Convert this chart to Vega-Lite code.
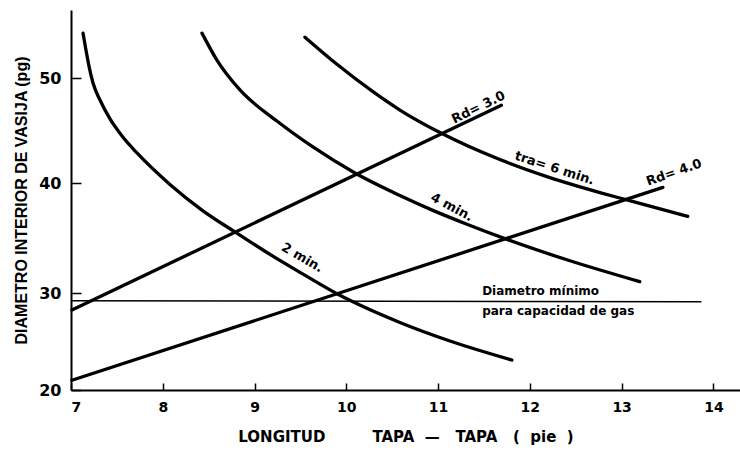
{
  "$schema": "https://vega.github.io/schema/vega-lite/v6.json",
  "width": 669,
  "height": 380,
  "autosize": {"type": "none"},
  "padding": {"left": 71, "top": 10, "right": 0, "bottom": 65},
  "background": "white",
  "config": {
    "view": {"stroke": null},
    "font": "DejaVu Sans"
  },
  "datasets": {
    "curves": [
      {"serie": "2 min", "x": 7.131, "y": 54.29},
      {"serie": "2 min", "x": 7.163, "y": 52.67},
      {"serie": "2 min", "x": 7.196, "y": 51.14},
      {"serie": "2 min", "x": 7.24, "y": 49.52},
      {"serie": "2 min", "x": 7.316, "y": 47.9},
      {"serie": "2 min", "x": 7.425, "y": 46.1},
      {"serie": "2 min", "x": 7.556, "y": 44.48},
      {"serie": "2 min", "x": 7.719, "y": 42.86},
      {"serie": "2 min", "x": 8.078, "y": 39.87},
      {"serie": "2 min", "x": 8.427, "y": 37.54},
      {"serie": "2 min", "x": 8.786, "y": 35.55},
      {"serie": "2 min", "x": 9.135, "y": 33.68},
      {"serie": "2 min", "x": 9.495, "y": 31.88},
      {"serie": "2 min", "x": 9.908, "y": 29.87},
      {"serie": "2 min", "x": 10.072, "y": 29.09},
      {"serie": "2 min", "x": 10.584, "y": 26.96},
      {"serie": "2 min", "x": 11.129, "y": 25.05},
      {"serie": "2 min", "x": 11.804, "y": 23.09},
      {"serie": "4 min", "x": 8.427, "y": 54.29},
      {"serie": "4 min", "x": 8.59, "y": 51.71},
      {"serie": "4 min", "x": 8.841, "y": 48.86},
      {"serie": "4 min", "x": 9.244, "y": 45.9},
      {"serie": "4 min", "x": 9.636, "y": 43.43},
      {"serie": "4 min", "x": 10.094, "y": 40.95},
      {"serie": "4 min", "x": 10.584, "y": 38.86},
      {"serie": "4 min", "x": 10.943, "y": 37.51},
      {"serie": "4 min", "x": 11.314, "y": 36.25},
      {"serie": "4 min", "x": 11.728, "y": 34.94},
      {"serie": "4 min", "x": 12.403, "y": 33.02},
      {"serie": "4 min", "x": 13.198, "y": 31.03},
      {"serie": "6 min", "x": 9.549, "y": 53.9},
      {"serie": "6 min", "x": 9.898, "y": 51.31},
      {"serie": "6 min", "x": 10.29, "y": 48.7},
      {"serie": "6 min", "x": 10.584, "y": 46.95},
      {"serie": "6 min", "x": 11.042, "y": 44.71},
      {"serie": "6 min", "x": 11.673, "y": 42.23},
      {"serie": "6 min", "x": 12.218, "y": 40.51},
      {"serie": "6 min", "x": 12.763, "y": 39.13},
      {"serie": "6 min", "x": 13.057, "y": 38.46},
      {"serie": "6 min", "x": 13.721, "y": 36.96},
      {"serie": "Rd 3.0", "x": 7.01, "y": 28.25},
      {"serie": "Rd 3.0", "x": 11.69, "y": 47.4},
      {"serie": "Rd 4.0", "x": 7.01, "y": 21.0},
      {"serie": "Rd 4.0", "x": 13.45, "y": 39.6}
    ],
    "minimo": [
      {"serie": "minimo", "x": 7.0, "y": 29.2},
      {"serie": "minimo", "x": 13.87, "y": 29.1}
    ],
    "labels": [
      {"id": "rd3", "text": "Rd= 3.0", "x": 11.44, "y": 47.2},
      {"id": "t6", "text": "tra= 6 min.", "x": 12.27, "y": 41.4},
      {"id": "rd4", "text": "Rd= 4.0", "x": 13.57, "y": 41.0},
      {"id": "t4", "text": "4 min.", "x": 11.15, "y": 37.8},
      {"id": "t2", "text": "2 min.", "x": 9.52, "y": 33.2},
      {"id": "d1", "text": "Diametro mínimo", "x": 11.48, "y": 30.15},
      {"id": "d2", "text": "para capacidad de gas", "x": 11.48, "y": 28.1}
    ]
  },
  "encoding": {
    "x": {
      "field": "x",
      "type": "quantitative",
      "scale": {"domain": [7, 14.29], "nice": false, "zero": false},
      "axis": {
        "values": [7, 8, 9, 10, 11, 12, 13, 14],
        "title": "LONGITUD\u00a0\u00a0\u00a0\u00a0\u00a0\u00a0\u00a0\u00a0\u00a0TAPA\u00a0\u00a0—\u00a0\u00a0\u00a0TAPA\u00a0\u00a0\u00a0(\u00a0\u00a0pie\u00a0\u00a0)",
        "titleFont": "DejaVu Sans",
        "titleFontWeight": "bold",
        "titleFontSize": 15,
        "titleColor": "black",
        "titlePadding": 15,
        "labelFont": "DejaVu Sans",
        "labelFontWeight": "bold",
        "labelFontSize": 14,
        "labelColor": "black",
        "labelPadding": 17,
        "tickSize": -7,
        "tickWidth": 1.5,
        "tickColor": "black",
        "domainColor": "black",
        "domainWidth": 2,
        "grid": false
      }
    },
    "y": {
      "field": "y",
      "type": "quantitative",
      "scale": {"domain": [20, 30, 40, 50, 56.5], "range": [380, 283, 173, 68, 0], "nice": false, "zero": false},
      "axis": {
        "values": [20, 30, 40, 50],
        "title": "DIAMETRO INTERIOR DE VASIJA (pg)",
        "titleFont": "Liberation Sans",
        "titleFontWeight": "bold",
        "titleFontSize": 16,
        "titleColor": "black",
        "titlePadding": 9,
        "labelFont": "DejaVu Sans",
        "labelFontWeight": "bold",
        "labelFontSize": 16,
        "labelColor": "black",
        "labelPadding": 20,
        "tickSize": -10,
        "tickWidth": 1.5,
        "tickColor": "black",
        "domainColor": "black",
        "domainWidth": 2,
        "grid": false
      }
    }
  },
  "layer": [
    {
      "data": {"name": "curves"},
      "mark": {"type": "line", "color": "black", "strokeWidth": 3.3, "strokeCap": "round", "interpolate": "monotone"},
      "encoding": {"detail": {"field": "serie", "type": "nominal"}}
    },
    {
      "data": {"name": "minimo"},
      "mark": {"type": "line", "color": "black", "strokeWidth": 1.6},
      "encoding": {"detail": {"field": "serie", "type": "nominal"}}
    },
    {
      "data": {"name": "labels"},
      "transform": [{"filter": "datum.id == 'rd3'"}],
      "mark": {"type": "text", "font": "DejaVu Sans", "fontWeight": "bold", "fontSize": 13, "color": "black", "angle": -26},
      "encoding": {"text": {"field": "text"}}
    },
    {
      "data": {"name": "labels"},
      "transform": [{"filter": "datum.id == 't6'"}],
      "mark": {"type": "text", "font": "DejaVu Sans", "fontWeight": "bold", "fontSize": 13, "color": "black", "angle": 18},
      "encoding": {"text": {"field": "text"}}
    },
    {
      "data": {"name": "labels"},
      "transform": [{"filter": "datum.id == 'rd4'"}],
      "mark": {"type": "text", "font": "DejaVu Sans", "fontWeight": "bold", "fontSize": 13, "color": "black", "angle": -19},
      "encoding": {"text": {"field": "text"}}
    },
    {
      "data": {"name": "labels"},
      "transform": [{"filter": "datum.id == 't4'"}],
      "mark": {"type": "text", "font": "DejaVu Sans", "fontWeight": "bold", "fontSize": 13, "color": "black", "angle": 28},
      "encoding": {"text": {"field": "text"}}
    },
    {
      "data": {"name": "labels"},
      "transform": [{"filter": "datum.id == 't2'"}],
      "mark": {"type": "text", "font": "DejaVu Sans", "fontWeight": "bold", "fontSize": 13, "color": "black", "angle": 30},
      "encoding": {"text": {"field": "text"}}
    },
    {
      "data": {"name": "labels"},
      "transform": [{"filter": "datum.id == 'd1' || datum.id == 'd2'"}],
      "mark": {"type": "text", "font": "DejaVu Sans", "fontWeight": "bold", "fontSize": 12, "color": "black", "align": "left", "baseline": "middle"},
      "encoding": {"text": {"field": "text"}}
    }
  ]
}
